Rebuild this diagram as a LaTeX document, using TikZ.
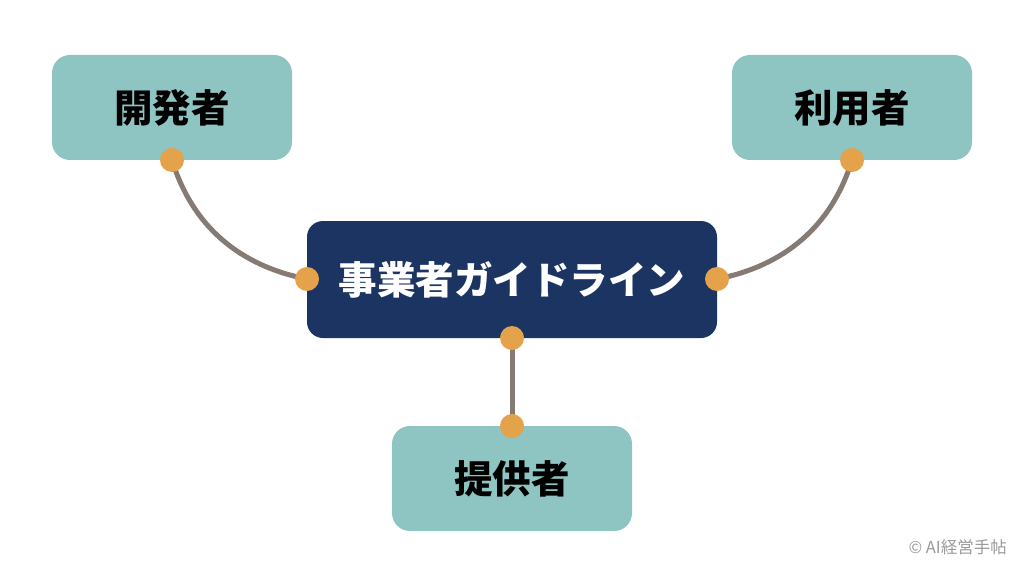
\documentclass[tikz,border=0pt]{standalone}
\usepackage{fontspec}
\newfontfamily\cjk{Noto Sans CJK JP}
\definecolor{teal}{HTML}{8EC4C1}
\definecolor{navy}{HTML}{1C3461}
\definecolor{dotc}{HTML}{E4A24A}
\definecolor{linec}{HTML}{857B74}
\definecolor{copyc}{HTML}{9A9A9A}
\tikzset{
  rolebox/.style={fill=teal, rounded corners=18pt, minimum width=240pt, minimum height=105pt, inner sep=0pt, font=\cjk\bfseries\fontsize{38.5}{42}\selectfont, text=black},
  mainbox/.style={fill=navy, rounded corners=16pt, minimum width=410pt, minimum height=117pt, inner sep=0pt, font=\cjk\bfseries\fontsize{38.5}{42}\selectfont, text=white},
  dot/.style={circle, fill=dotc, minimum size=24pt, inner sep=0pt},
  conn/.style={draw=linec, line width=5pt}
}
\begin{document}
\begin{tikzpicture}[x=1pt,y=-1pt]
\useasboundingbox[fill=white] (0,0) rectangle (1024,572);
\node[rolebox] (dev) at (172,107.5) {開発者};
\node[rolebox] (usr) at (852,107.5) {利用者};
\node[rolebox] (prov) at (512,478.5) {提供者};
\coordinate (dd) at (172,160);
\coordinate (ud) at (852,160);
\coordinate (ml) at (307,279);
\coordinate (mr) at (717,279);
\coordinate (mb) at (512,338);
\coordinate (pt) at (512,426);
\draw[conn] (dd) .. controls (195,235) and (250,268) .. (ml);
\draw[conn] (ud) .. controls (829,235) and (774,268) .. (mr);
\draw[conn] (mb) -- (pt);
\node[mainbox] (main) at (512,279.5) {事業者ガイドライン};
\node[dot] (d1) at (dd) {};
\node[dot] (d2) at (ud) {};
\node[dot] (d3) at (ml) {};
\node[dot] (d4) at (mr) {};
\node[dot] (d5) at (mb) {};
\node[dot] (d6) at (pt) {};
\node[anchor=east, text=copyc, font=\cjk\fontsize{16.5}{18}\selectfont, inner sep=0pt] (copy) at (1007,547) {© AI経営手帖};
\end{tikzpicture}
\end{document}
